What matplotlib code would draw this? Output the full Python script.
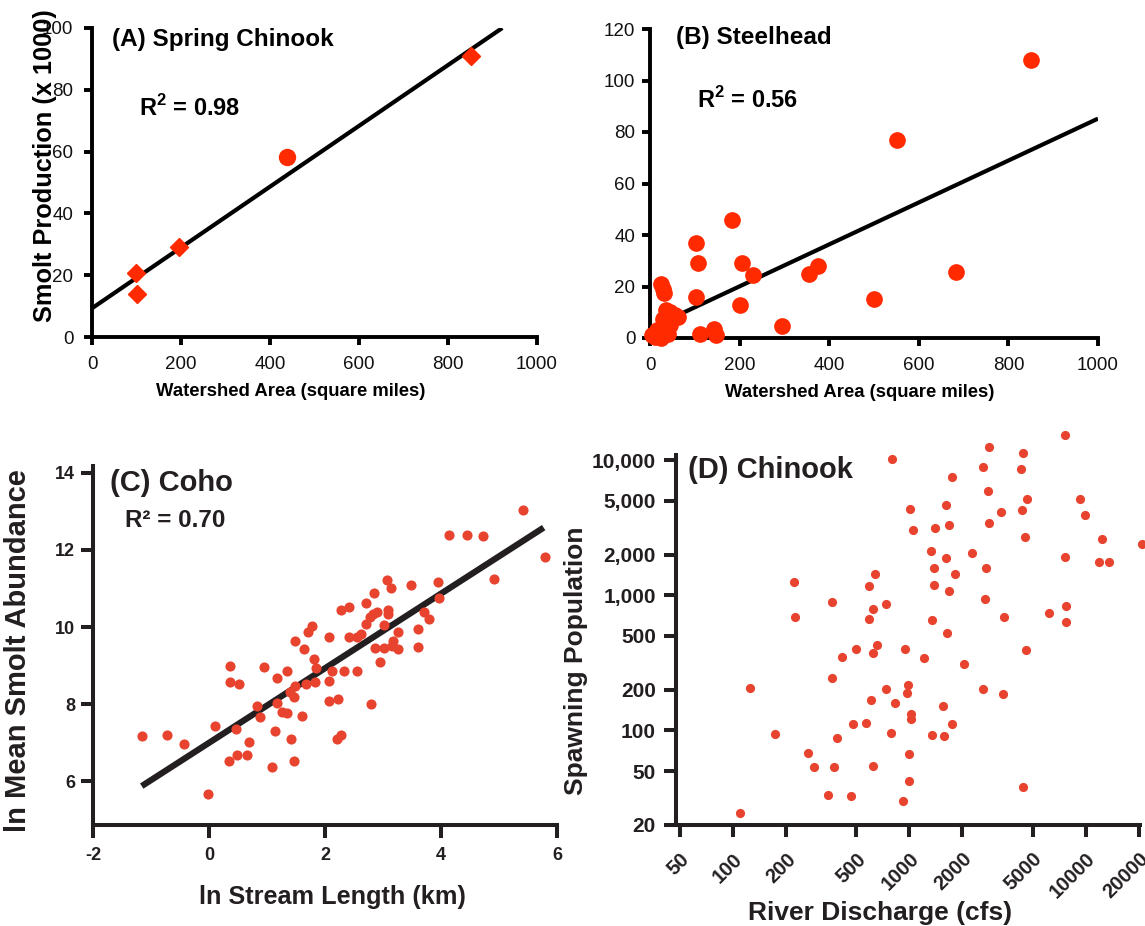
import matplotlib
matplotlib.use('Agg')
import matplotlib.pyplot as plt
from matplotlib import font_manager as fm
from matplotlib.ticker import FixedLocator, FixedFormatter, NullLocator

names = {f.name for f in fm.fontManager.ttflist}
SANS = 'Liberation Sans'
NARROW = 'Liberation Sans Narrow' if 'Liberation Sans Narrow' in names else SANS
plt.rcParams['font.family'] = [SANS, 'DejaVu Sans']
plt.rcParams['mathtext.fontset'] = 'custom'
plt.rcParams['mathtext.rm'] = SANS
plt.rcParams['mathtext.bf'] = SANS + ':bold'
plt.rcParams['axes.unicode_minus'] = False

# ---------------- data ----------------
# (A) Spring Chinook
a_area = [98, 101, 196, 439, 851]
a_smolt = [20.6, 14.0, 29.0, 58.4, 90.8]
a_marker = ['D', 'D', 'D', 'o', 'D']
a_fit_x = [0, 922]
a_fit_y = [9.3, 100.0]

# (B) Steelhead
b_area = [851, 551, 682, 499, 376, 354, 294, 182, 102, 107, 102, 112, 205, 231, 202, 143, 147,
          24, 28, 32, 35, 45, 55, 62, 30, 40,
          5, 12, 20, 28, 35, 45, 25, 15, 40]
b_smolt = [108, 77, 25.5, 15, 28, 25, 4.6, 45.8, 37, 29, 16, 1.6, 29.2, 24.6, 13, 3.4, 1.2,
           20.8, 19, 17.5, 11, 10, 9, 8, 7.5, 8,
           1, 0.5, 2, 3.5, 4, 5, 0, 3, 1.5]
b_fit_x = [15, 1000]
b_fit_y = [5.0, 85.2]

# (C) Coho
c_len = [-1.16, -0.73, -0.43, -0.01, 0.10, 0.47, 0.35, 0.49, 0.66, 0.69, 1.09, 1.14, 1.41, 1.46,
         2.21, 2.27, 2.80,
         0.36, 0.36, 0.51, 0.94, 1.18, 1.35, 0.83, 0.88, 1.17, 1.25, 1.35, 1.40, 1.49, 1.47, 1.60,
         1.48, 1.64, 1.71, 1.78, 1.81, 1.85, 1.82, 1.68, 2.07, 2.12, 2.07, 2.07, 2.23, 2.33, 2.27,
         2.41, 2.41, 2.56, 2.55, 2.62, 2.70, 2.71, 2.77, 2.83, 2.89, 2.84, 3.02, 2.87, 3.02, 2.95,
         3.07, 3.13, 3.08, 3.09, 3.18, 3.15, 3.25, 3.25, 3.48, 3.61, 3.60, 3.71, 3.79, 3.94, 3.96,
         4.14, 4.44, 4.73, 4.92, 5.42, 5.80]
c_abund = [7.16, 7.20, 6.96, 5.66, 7.44, 7.35, 6.52, 6.69, 6.67, 7.02, 6.36, 7.31, 7.09, 6.53,
           7.09, 7.20, 7.99,
           8.98, 8.57, 8.51, 8.97, 8.67, 8.85, 7.96, 7.67, 8.03, 7.80, 7.76, 8.32, 8.47, 8.19, 7.70,
           9.64, 9.43, 9.88, 10.03, 9.17, 8.93, 8.57, 8.51, 9.73, 8.85, 8.60, 8.08, 8.13, 8.85, 10.44,
           10.53, 9.73, 8.85, 9.73, 9.83, 10.62, 10.07, 10.26, 10.34, 10.38, 10.88, 10.05, 9.45, 9.45, 9.08,
           11.22, 11.01, 10.45, 10.33, 9.64, 9.51, 9.43, 9.88, 11.08, 9.94, 9.47, 10.38, 10.21, 11.18, 10.75,
           12.39, 12.38, 12.37, 11.25, 13.03, 11.82]
c_fit_x = [-1.16, 5.77]
c_fit_y = [5.87, 12.58]

# (D) Chinook
d_flow = [793, 222, 225, 125, 110, 174, 267, 288, 372, 347, 464, 365, 362, 388, 413, 496, 480, 571,
          605, 587, 635, 619, 587, 736, 652, 624, 733, 827, 782, 624, 923, 947, 980, 975, 1016, 1016,
          993, 1000,
          7620, 2812, 4385, 2600, 4305, 1734, 2786, 4636, 9290, 1006, 1603, 3314, 4357, 9885, 1042,
          1395, 1675, 2820, 4532, 12300, 20900, 1319, 1603, 2271, 7586, 11830, 13460, 1377, 2727,
          1804, 1372, 1667, 2680, 6210, 7740, 7740, 3420, 1342, 1638, 1213, 2030, 4594, 2620, 3376,
          1555, 1734, 1346, 1570, 4385]
d_spawn = [10190, 1260, 688, 205, 24.7, 93.7, 68.5, 54, 53.5, 33.2, 33, 888, 243, 88.5, 348, 403,
           112, 114, 168, 1166, 1430, 788, 668, 867, 429, 372, 203, 161, 96, 54.7, 30, 401, 217, 188,
           132, 121, 67, 42.3,
           15400, 12450, 11350, 8940, 8590, 7530, 5900, 5150, 5180, 4350, 4630, 4130, 4275, 3910,
           3040, 3150, 3300, 3430, 2712, 2606, 2395, 2127, 1898, 2066, 1930, 1774, 1774, 1584, 1584,
           1445, 1192, 1076, 934, 743, 833, 638, 695, 656, 528, 346, 309, 394, 204, 185, 152, 112,
           92.6, 91, 38]

d_xticks = [50, 100, 200, 500, 1000, 2000, 5000, 10000, 20000]
d_xlabels = ['50', '100', '200', '500', '1000', '2000', '5000', '10000', '20000']
d_yticks = [20, 50, 100, 200, 500, 1000, 2000, 5000, 10000]
d_ylabels = ['20', '50', '100', '200', '500', '1,000', '2,000', '5,000', '10,000']

# ---------------- styling ----------------
RED1 = '#ff2a00'
RED2 = '#e8432e'
DARK = '#231f20'
W, H = 1145, 926

fig = plt.figure(figsize=(W / 100, H / 100), dpi=100)


def box(l, r, t, b):
    return [l / W, 1 - b / H, (r - l) / W, (b - t) / H]


def style(ax, color, lw, tl):
    for s in ('top', 'right'):
        ax.spines[s].set_visible(False)
    for s in ('left', 'bottom'):
        ax.spines[s].set_linewidth(lw)
        ax.spines[s].set_color(color)
        ax.spines[s].set_capstyle('projecting')
    ax.tick_params(direction='out', length=tl, width=lw, color=color)


# ---- A ----
axA = fig.add_axes(box(92, 537, 28, 337))
style(axA, 'black', 2.8, 5.5)
axA.set_xlim(0, 1000)
axA.set_ylim(0, 100)
axA.set_xticks(range(0, 1001, 200))
axA.set_yticks(range(0, 101, 20))
axA.tick_params(labelsize=13.5, labelcolor='#111111')
axA.tick_params(axis='x', pad=8)
axA.tick_params(axis='y', pad=8)
axA.plot(a_fit_x, a_fit_y, color='black', lw=3, solid_capstyle='butt', zorder=2)
for x, y, m in zip(a_area, a_smolt, a_marker):
    axA.plot([x], [y], marker=m, ms=9 if m == 'D' else 11.5, color=RED1, mec=RED1, ls='none',
             zorder=3, clip_on=False)
axA.text(0.045, 0.962, '(A) Spring Chinook', transform=axA.transAxes, fontsize=17.5,
         fontweight='bold', va='center', ha='left')
axA.text(0.106, 0.741, r'R$^{\mathbf{2}}$ = 0.98', transform=axA.transAxes, fontsize=17,
         fontweight='bold', va='center', ha='left')
axA.set_xlabel('Watershed Area (square miles)', fontsize=13.3, fontweight='bold')
axA.xaxis.set_label_coords(0.447, -0.150)
axA.set_ylabel('Smolt Production (x 1000)', fontsize=18.3, fontweight='bold')
axA.yaxis.set_label_coords(-0.078, 0.553)

# ---- B ----
axB = fig.add_axes(box(650, 1098, 29, 338))
style(axB, 'black', 2.8, 5.5)
axB.set_xlim(0, 1000)
axB.set_ylim(0, 120)
axB.set_xticks(range(0, 1001, 200))
axB.set_yticks(range(0, 121, 20))
axB.tick_params(labelsize=13.5, labelcolor='#111111')
axB.tick_params(axis='x', pad=8)
axB.tick_params(axis='y', pad=5)
axB.plot(b_fit_x, b_fit_y, color='black', lw=3, solid_capstyle='butt', zorder=2)
axB.plot(b_area, b_smolt, 'o', ms=11, color=RED1, mec=RED1, zorder=3, clip_on=False)
axB.text(0.058, 0.971, '(B) Steelhead', transform=axB.transAxes, fontsize=17.5,
         fontweight='bold', va='center', ha='left')
axB.text(0.105, 0.770, r'R$^{\mathbf{2}}$ = 0.56', transform=axB.transAxes, fontsize=17,
         fontweight='bold', va='center', ha='left')
axB.set_xlabel('Watershed Area (square miles)', fontsize=13.3, fontweight='bold')
axB.xaxis.set_label_coords(0.469, -0.150)

# ---- C ----
axC = fig.add_axes(box(93, 557, 466, 825))
style(axC, DARK, 2.9, 9)
axC.set_xlim(-2, 6)
axC.set_ylim(4.86, 14.18)
axC.set_xticks([-2, 0, 2, 4, 6])
axC.set_yticks([6, 8, 10, 12, 14])
for lab in axC.get_xticklabels() + axC.get_yticklabels():
    lab.set_fontfamily(NARROW)
    lab.set_fontweight('bold')
    lab.set_fontsize(13)
    lab.set_color(DARK)
axC.tick_params(axis='x', pad=7)
axC.tick_params(axis='y', pad=4)
axC.plot(c_fit_x, c_fit_y, color=DARK, lw=4.5, solid_capstyle='butt', zorder=2)
axC.plot(c_len, c_abund, 'o', ms=7.3, color=RED2, mec='none', zorder=3)
axC.text(0.037, 0.953, '(C) Coho', transform=axC.transAxes, fontsize=21, family=NARROW,
         fontweight='bold', va='center', ha='left', color=DARK)
axC.text(0.069, 0.847, 'R\u00b2 = 0.70', transform=axC.transAxes, fontsize=17.5, family=NARROW,
         fontweight='bold', va='center', ha='left', color=DARK)
axC.set_xlabel('ln Stream Length (km)', fontsize=18.2, fontweight='bold', family=NARROW, color=DARK)
axC.xaxis.set_label_coords(0.515, -0.167)
axC.set_ylabel('ln Mean Smolt Abundance', fontsize=21, fontweight='bold', color=DARK)
axC.yaxis.set_label_coords(-0.131, 0.487)

# ---- D ----
axD = fig.add_axes(box(676, 1140, 455, 825))
style(axD, DARK, 2.9, 8.5)
axD.set_xscale('log')
axD.set_yscale('log')
axD.set_xlim(47.5, 20300)
axD.set_ylim(20, 10900)
axD.xaxis.set_major_locator(FixedLocator(d_xticks))
axD.xaxis.set_major_formatter(FixedFormatter(d_xlabels))
axD.xaxis.set_minor_locator(NullLocator())
axD.yaxis.set_major_locator(FixedLocator(d_yticks))
axD.yaxis.set_major_formatter(FixedFormatter(d_ylabels))
axD.yaxis.set_minor_locator(NullLocator())
axD.tick_params(axis='x', pad=9)
axD.tick_params(axis='y', pad=6)
for lab in axD.get_xticklabels():
    lab.set_rotation(45)
    lab.set_ha('right')
    lab.set_va('top')
    lab.set_rotation_mode('anchor')
    lab.set_fontsize(14.5)
for lab in axD.get_yticklabels():
    lab.set_fontsize(15)
for lab in axD.get_xticklabels() + axD.get_yticklabels():
    lab.set_fontweight('bold')
    lab.set_color(DARK)
axD.plot(d_flow, d_spawn, 'o', ms=6.6, color=RED2, mec='none', zorder=3, clip_on=False)
axD.text(0.026, 0.959, '(D) Chinook', transform=axD.transAxes, fontsize=21,
         fontweight='bold', va='center', ha='left', color=DARK)
axD.set_xlabel('River Discharge (cfs)', fontsize=19, fontweight='bold', color=DARK)
axD.xaxis.set_label_coords(0.439, -0.205)
axD.set_ylabel('Spawning Population', fontsize=19, fontweight='bold', color=DARK)
axD.yaxis.set_label_coords(-0.19, 0.443)

fig.savefig('out.png', dpi=100)
